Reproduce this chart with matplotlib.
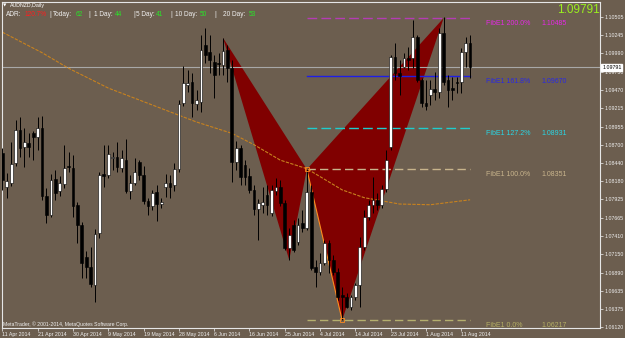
import matplotlib.pyplot as plt
from matplotlib.patches import Polygon
import numpy as np

plt.rcParams['font.family'] = ['Liberation Sans', 'DejaVu Sans']

# AUDNZD daily bars, 11 Apr 2014 .. 13 Aug 2014 (broker has Sunday bars)
opens = [1.0858, 1.0810, 1.0816, 1.0844, 1.0891, 1.0867, 1.0872, 1.0886, 1.0881, 1.0894,
         1.0797, 1.0771, 1.0821, 1.0804, 1.0814, 1.0840, 1.0837, 1.0785, 1.0756, 1.0711,
         1.0697, 1.0672, 1.0745, 1.0828, 1.0827, 1.0851, 1.0852, 1.0837, 1.0848, 1.0804,
         1.0816, 1.0845, 1.0827, 1.0790, 1.0783, 1.0803, 1.0786, 1.0810, 1.0816, 1.0813,
         1.0836, 1.0929, 1.0954, 1.0959, 1.0927, 1.0930, 1.1011, 1.1001, 1.0987, 1.0985,
         1.0983, 1.1004, 1.0978, 1.0845, 1.0865, 1.0841, 1.0826, 1.0806, 1.0779, 1.0785,
         1.0799, 1.0773, 1.0804, 1.0810, 1.0788, 1.0724, 1.0756, 1.0732, 1.0759, 1.0752,
         1.0803, 1.0697, 1.0690, 1.0703, 1.0731, 1.0707, 1.0690, 1.0657, 1.0655, 1.0640,
         1.0655, 1.0672, 1.0725, 1.0768, 1.0785, 1.0792, 1.0785, 1.0807, 1.0867, 1.0994,
         1.0971, 1.0980, 1.0993, 1.0993, 1.1022, 1.0961, 1.0929, 1.0940, 1.0949, 1.0944,
         1.1028, 1.0961, 1.0950, 1.0959, 1.0959, 1.1001, 1.1014]
highs = [1.0865, 1.0830, 1.0874, 1.0905, 1.0909, 1.0894, 1.0886, 1.0889, 1.0909, 1.0911,
         1.0809, 1.0828, 1.0834, 1.0826, 1.0870, 1.0860, 1.0855, 1.0789, 1.0761, 1.0720,
         1.0725, 1.0751, 1.0831, 1.0870, 1.0870, 1.0860, 1.0874, 1.0862, 1.0878, 1.0827,
         1.0851, 1.0848, 1.0840, 1.0795, 1.0806, 1.0813, 1.0795, 1.0828, 1.0827, 1.0844,
         1.0933, 1.0981, 1.0976, 1.0971, 1.0947, 1.1025, 1.1035, 1.1025, 1.0997, 1.1000,
         1.1021, 1.1011, 1.0990, 1.0875, 1.0870, 1.0848, 1.0837, 1.0813, 1.0793, 1.0810,
         1.0813, 1.0813, 1.0823, 1.0820, 1.0792, 1.0752, 1.0763, 1.0766, 1.0778, 1.0836,
         1.0813, 1.0707, 1.0717, 1.0735, 1.0735, 1.0714, 1.0696, 1.0669, 1.0660, 1.0657,
         1.0674, 1.0739, 1.0778, 1.0792, 1.0824, 1.0802, 1.0813, 1.0862, 1.0997, 1.1014,
         1.0990, 1.1000, 1.1008, 1.1046, 1.1025, 1.0964, 1.0961, 1.0961, 1.0973, 1.1035,
         1.1050, 1.0968, 1.0966, 1.0966, 1.1007, 1.1022, 1.1025]
lows = [1.0806, 1.0795, 1.0812, 1.0840, 1.0852, 1.0838, 1.0852, 1.0848, 1.0862, 1.0792,
        1.0759, 1.0768, 1.0792, 1.0797, 1.0809, 1.0831, 1.0768, 1.0731, 1.0681, 1.0681,
        1.0669, 1.0648, 1.0738, 1.0810, 1.0823, 1.0834, 1.0831, 1.0831, 1.0802, 1.0793,
        1.0813, 1.0820, 1.0786, 1.0771, 1.0778, 1.0762, 1.0780, 1.0796, 1.0795, 1.0804,
        1.0831, 1.0925, 1.0944, 1.0909, 1.0919, 1.0916, 1.0985, 1.0971, 1.0936, 1.0968,
        1.0968, 1.0959, 1.0817, 1.0834, 1.0813, 1.0813, 1.0802, 1.0771, 1.0735, 1.0773,
        1.0771, 1.0769, 1.0799, 1.0783, 1.0721, 1.0707, 1.0718, 1.0728, 1.0747, 1.0749,
        1.0693, 1.0669, 1.0686, 1.0700, 1.0689, 1.0686, 1.0650, 1.0622, 1.0639, 1.0636,
        1.0650, 1.0640, 1.0721, 1.0763, 1.0773, 1.0778, 1.0780, 1.0803, 1.0862, 1.0961,
        1.0940, 1.0978, 1.0976, 1.0978, 1.0959, 1.0923, 1.0919, 1.0926, 1.0933, 1.0936,
        1.0954, 1.0923, 1.0933, 1.0943, 1.0943, 1.0980, 1.0964]
closes = [1.0820, 1.0819, 1.0843, 1.0891, 1.0865, 1.0874, 1.0867, 1.0881, 1.0894, 1.0797,
          1.0771, 1.0820, 1.0802, 1.0816, 1.0837, 1.0838, 1.0783, 1.0756, 1.0703, 1.0697,
          1.0673, 1.0744, 1.0827, 1.0826, 1.0857, 1.0852, 1.0838, 1.0851, 1.0804, 1.0816,
          1.0831, 1.0827, 1.0790, 1.0783, 1.0802, 1.0786, 1.0789, 1.0816, 1.0810, 1.0836,
          1.0927, 1.0957, 1.0957, 1.0929, 1.0933, 1.1004, 1.0997, 1.0990, 1.0968, 1.0984,
          1.1002, 1.0978, 1.0845, 1.0865, 1.0824, 1.0824, 1.0806, 1.0779, 1.0788, 1.0789,
          1.0785, 1.0806, 1.0810, 1.0788, 1.0724, 1.0742, 1.0721, 1.0756, 1.0752, 1.0803,
          1.0696, 1.0690, 1.0703, 1.0731, 1.0707, 1.0690, 1.0655, 1.0655, 1.0640, 1.0655,
          1.0672, 1.0725, 1.0768, 1.0785, 1.0792, 1.0785, 1.0807, 1.0848, 1.0994, 1.0971,
          1.0967, 1.0993, 1.0990, 1.1022, 1.0961, 1.0929, 1.0925, 1.0949, 1.0944, 1.1028,
          1.0959, 1.0947, 1.0947, 1.0957, 1.1001, 1.1014, 1.09791]

# moving average read at a few bars
ma_idx = [0, 9, 15, 24, 34, 44, 52, 57, 63, 69, 77, 82, 90, 97, 106]
ma_val = [1.1029, 1.1000, 1.0978, 1.0950, 1.0926, 1.0902, 1.0886, 1.0870, 1.0848,
          1.0836, 1.0806, 1.0795, 1.0786, 1.0785, 1.0792]

# harmonic pattern X A B C D
pat_idx = [50, 65, 69, 77, 100]
pat_val = [1.1021, 1.0707, 1.08351, 1.06217, 1.1049]

fib_names = ["FibE1 200.0%", "FibE1 161.8%", "FibE1 127.2%", "FibE1 100.0%", "FibE1 0.0%"]
fib_vals = [1.10485, 1.09670, 1.08931, 1.08351, 1.06217]
fib_line_colors = ['#B43CB4', '#1E1EE6', '#1ECDCD', '#C8B48C', '#B4AF6E']
fib_text_colors = ['#E628E6', '#2828E6', '#28D7E6', '#C8B48C', '#B4AF64']
fib_styles = [(0, (7, 3)), '-', (0, (7, 3)), (0, (6, 3)), (0, (6, 3))]

date_idx = [0, 8, 16, 24, 32, 40, 48, 56, 64, 72, 80, 88, 96, 104]
date_labels = ["11 Apr 2014", "21 Apr 2014", "30 Apr 2014", "9 May 2014", "19 May 2014",
               "28 May 2014", "6 Jun 2014", "16 Jun 2014", "25 Jun 2014", "4 Jul 2014",
               "14 Jul 2014", "23 Jul 2014", "1 Aug 2014", "11 Aug 2014"]

price_ticks = [1.10505, 1.10245, 1.09990, 1.09730, 1.09470, 1.09215, 1.08955, 1.08700,
               1.08440, 1.08180, 1.07925, 1.07665, 1.07410, 1.07150, 1.06890, 1.06635,
               1.06375, 1.06120]
last_price = 1.09791

adr_parts = [("ADR:", 6, 'w'), ("120.7%", 25, 'r'), ("|", 49, 'w'), ("Today:", 53, 'w'),
             ("62", 76, 'g'), ("|", 88, 'w'), ("1 Day:", 94, 'w'), ("44", 115, 'g'),
             ("|", 133, 'w'), ("5 Day:", 136.5, 'w'), ("41", 155.5, 'g'),
             ("|", 170, 'w'), ("10 Day:", 175, 'w'), ("50", 200, 'g'),
             ("|", 214, 'w'), ("20 Day:", 223, 'w'), ("53", 249, 'g')]

bg = '#6C5E4F'
W, H = 625, 338

fig = plt.figure(figsize=(W / 100, H / 100), dpi=100, facecolor=bg)
ax = fig.add_axes([2 / W, 10 / H, 598 / W, 326 / H], facecolor=bg)
ax.set_xlim(-0.08, 135.43)
ax.set_ylim(1.06107, 1.10717)

# pattern triangles
X, A, B, C, D = list(zip(pat_idx, pat_val))
ax.add_patch(Polygon([X, A, B], closed=True, fc='#800000', ec='none', zorder=1))
ax.add_patch(Polygon([B, C, D], closed=True, fc='#800000', ec='none', zorder=1))
ax.plot([B[0], C[0]], [B[1], C[1]], color='#FF8C1E', lw=0.8, zorder=2)
ax.plot([B[0], C[0]], [B[1], C[1]], ls='none', marker='s', ms=2.5, mfc='none',
        mec='#FF8C1E', mew=0.6, zorder=5)

# fibo levels
x_end = len(opens) - 1
for name, val, lc, tc, ls in zip(fib_names, fib_vals, fib_line_colors, fib_text_colors, fib_styles):
    ax.plot([B[0], x_end], [val, val], color=lc, lw=1, ls=ls, zorder=2)
    ax.annotate(name, xy=(109.6, val), xytext=(0, -3.6), textcoords='offset points',
                color=tc, fontsize=5, va='center', ha='left', annotation_clip=False)
    ax.annotate(f'{val:.5f}', xy=(122.1, val), xytext=(0, -3.6), textcoords='offset points',
                color=tc, fontsize=5, va='center', ha='left', annotation_clip=False)

# moving average and last price line
ax.plot(ma_idx, ma_val, color='#C8821E', lw=0.8, ls=(0, (3, 1.2)), zorder=2)
ax.axhline(last_price, color='#A8A8A8', lw=0.8, zorder=1.5)

# candles
x = np.arange(len(opens))
o = np.array(opens)
c = np.array(closes)
up = c >= o
body = np.maximum(np.abs(c - o), 0.00006)
ax.vlines(x, lows, highs, color='black', lw=0.7, zorder=3)
ax.bar(x[up], body[up], bottom=o[up], width=0.62, color='white', edgecolor='black', lw=0.4, zorder=4)
ax.bar(x[~up], body[~up], bottom=c[~up], width=0.62, color='black', edgecolor='black', lw=0.4, zorder=4)

for s in ax.spines.values():
    s.set_color('#E6E6E6')
    s.set_linewidth(0.8)

ax.yaxis.tick_right()
ax.set_yticks(price_ticks)
ax.set_yticklabels([f'{p:.5f}' for p in price_ticks])
ax.tick_params(axis='y', colors='#F0F0F0', labelsize=3.8, length=2, width=0.5, pad=1)
ax.set_xticks(date_idx)
ax.set_xticklabels(date_labels)
for lab in ax.get_xticklabels():
    lab.set_ha('left')
ax.tick_params(axis='x', colors='#F0F0F0', labelsize=3.8, length=2, width=0.5, pad=1)

ax.annotate(f'{last_price:.5f}', xy=(1, last_price), xycoords=('axes fraction', 'data'),
            xytext=(1.5, 0), textcoords='offset points', ha='left', va='center',
            fontsize=3.8, color='black',
            bbox=dict(boxstyle='square,pad=0.15', fc='white', ec='white'))


def px(xp, yp):
    return xp / W, 1 - yp / H


fig.text(*px(3, 5.5), '▼', color='white', fontsize=3.2, va='center', family='DejaVu Sans')
fig.text(*px(10, 5.5), 'AUDNZD,Daily', color='white', fontsize=3.8, va='center')
cols = {'w': '#F0F0F0', 'r': '#FF1E1E', 'g': '#28E628'}
for txt, xp, col in adr_parts:
    fig.text(*px(xp, 14.5), txt, color=cols[col], fontsize=4.7, va='center')
fig.text(*px(600, 10), f'{last_price:.5f}', color='#9BF01E', fontsize=8.5, ha='right', va='center')
fig.text(*px(3, 324.5), 'MetaTrader, © 2001-2014, MetaQuotes Software Corp.',
         color='#F0F0F0', fontsize=3.7, va='center')

fig.savefig('out.png', dpi=100, facecolor=bg)
